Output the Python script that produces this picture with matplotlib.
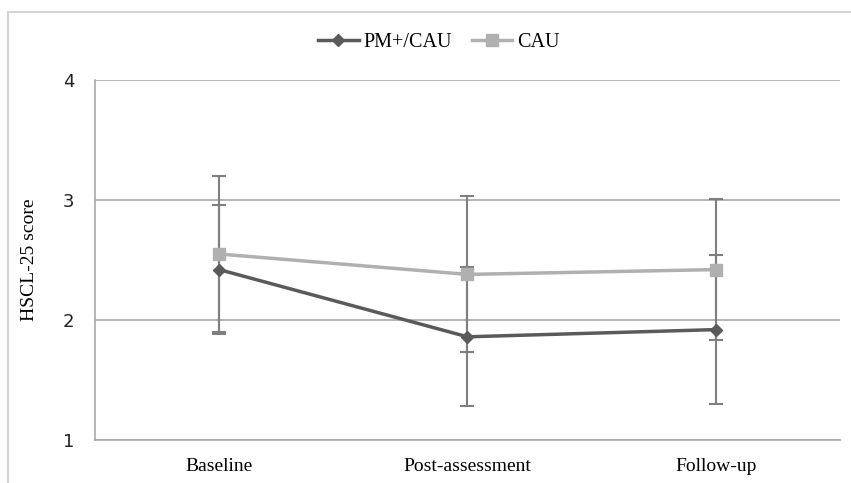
import matplotlib.pyplot as plt
import numpy as np
from matplotlib.patches import Rectangle

fases = ["Baseline", "Post-assessment", "Follow-up"]
pm_media = [2.42, 1.86, 1.92]
pm_dp = [0.54, 0.58, 0.62]
cau_media = [2.55, 2.38, 2.42]
cau_dp = [0.65, 0.65, 0.59]

serif = "Liberation Serif"
x = np.arange(len(fases))

fig = plt.figure(figsize=(8.51, 4.83), dpi=100)
ax = fig.add_axes([0.1116, 0.089, 0.8754, 0.7454])

# borda cinza da figura
fig.patches.append(Rectangle((8 / 851, -0.05), 1.1, 1 - 12 / 483 + 0.05, transform=fig.transFigure,
                             fill=False, edgecolor="#d4d4d4", linewidth=1.5))

ax.errorbar(x, cau_media, yerr=cau_dp, fmt="none", ecolor="#7f7f7f", elinewidth=1.5, capsize=5, capthick=1.5, zorder=2)
ax.errorbar(x, pm_media, yerr=pm_dp, fmt="none", ecolor="#7f7f7f", elinewidth=1.5, capsize=5, capthick=1.5, zorder=2)
ax.plot(x, pm_media, color="#5a5a5a", marker="D", markersize=6, linewidth=2.5, label="PM+/CAU", zorder=3)
ax.plot(x, cau_media, color="#b0b0b0", marker="s", markersize=8, linewidth=2.5, label="CAU", zorder=3)

ax.set_xlim(-0.5, 2.5)
ax.set_ylim(1, 4)
ax.set_yticks([1, 2, 3, 4])
ax.set_xticks(x)
ax.set_xticklabels(fases, fontfamily=serif, fontsize=14)
ax.tick_params(axis="y", labelsize=13, length=0, pad=15, labelcolor="#222222")
ax.tick_params(axis="x", length=0, pad=13)
ax.grid(axis="y", color="#a8a8a8", linewidth=1.2)
ax.set_axisbelow(True)
for s in ["top", "right"]:
    ax.spines[s].set_visible(False)
for s in ["left", "bottom"]:
    ax.spines[s].set_color("#a8a8a8")
    ax.spines[s].set_linewidth(1.2)

ax.set_ylabel("HSCL-25 score", fontfamily=serif, fontsize=14)
ax.yaxis.set_label_coords(-0.076, 0.5)

fig.legend(loc="center", bbox_to_anchor=(0.516, 0.913), ncol=2, frameon=False,
           prop={"family": serif, "size": 14.5}, handlelength=2.0, columnspacing=1.0, handletextpad=0.25)

fig.savefig("out.png", dpi=100)
